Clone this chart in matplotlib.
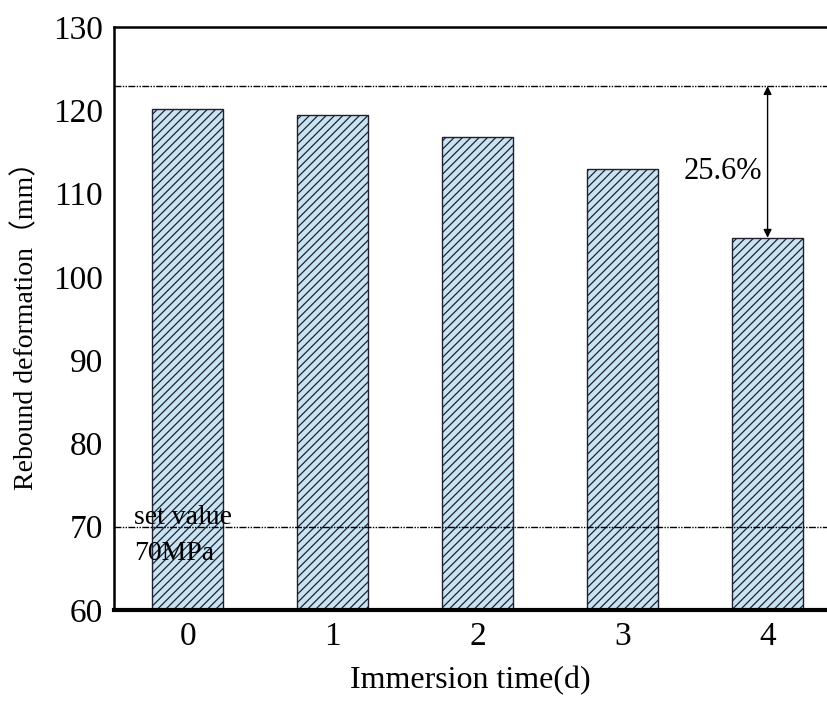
import matplotlib
matplotlib.use('Agg')
import matplotlib.pyplot as plt

plt.rcParams['font.family'] = ['Liberation Serif', 'Noto Sans CJK SC']
plt.rcParams['hatch.linewidth'] = 0.9

days = [0, 1, 2, 3, 4]
rebound = [120.1, 119.4, 116.8, 113.0, 104.7]
ref_line = 122.9
set_value = 70
pct_label = "25.6%"

fig = plt.figure(figsize=(8.27, 7.07), dpi=100)
ax = fig.add_axes([0.1378, 0.1372, 0.8622, 0.8246])

ax.bar(days, rebound, width=0.49, color='#c8e4f3', edgecolor='#202030',
       linewidth=1.0, hatch='////', zorder=2)

dash = (0, (5, 1, 1, 1, 1, 1))
ax.axhline(ref_line, color='black', lw=1.0, ls=dash, zorder=3)
ax.axhline(set_value, color='black', lw=1.0, ls=dash, zorder=3)

ax.annotate('', xy=(4, rebound[-1]), xytext=(4, ref_line),
            arrowprops=dict(arrowstyle='<|-|>', color='black', lw=1.0,
                            mutation_scale=12, shrinkA=0, shrinkB=0), zorder=4)
ax.text(3.42, 112.6, pct_label, fontsize=22, va='center', ha='left', zorder=4)
ax.text(-0.37, 71.1, 'set value', fontsize=20, va='center', ha='left', zorder=4)
ax.text(-0.37, 66.8, '70MPa', fontsize=20, va='center', ha='left', zorder=4)

ax.set_xlim(-0.51, 4.41)
ax.set_ylim(60, 130)
ax.set_xticks(days)
ax.set_yticks(range(60, 131, 10))
ax.tick_params(length=0, labelsize=24, pad=8)

ax.spines['right'].set_visible(False)
ax.spines['left'].set_linewidth(1.8)
ax.spines['top'].set_linewidth(1.8)
ax.spines['bottom'].set_linewidth(3.0)

ax.set_xlabel('Immersion time(d)', fontsize=23, labelpad=10)
ax.set_ylabel('Rebound deformation（mm）', fontsize=20, labelpad=10)

fig.savefig('out.png', dpi=100)
